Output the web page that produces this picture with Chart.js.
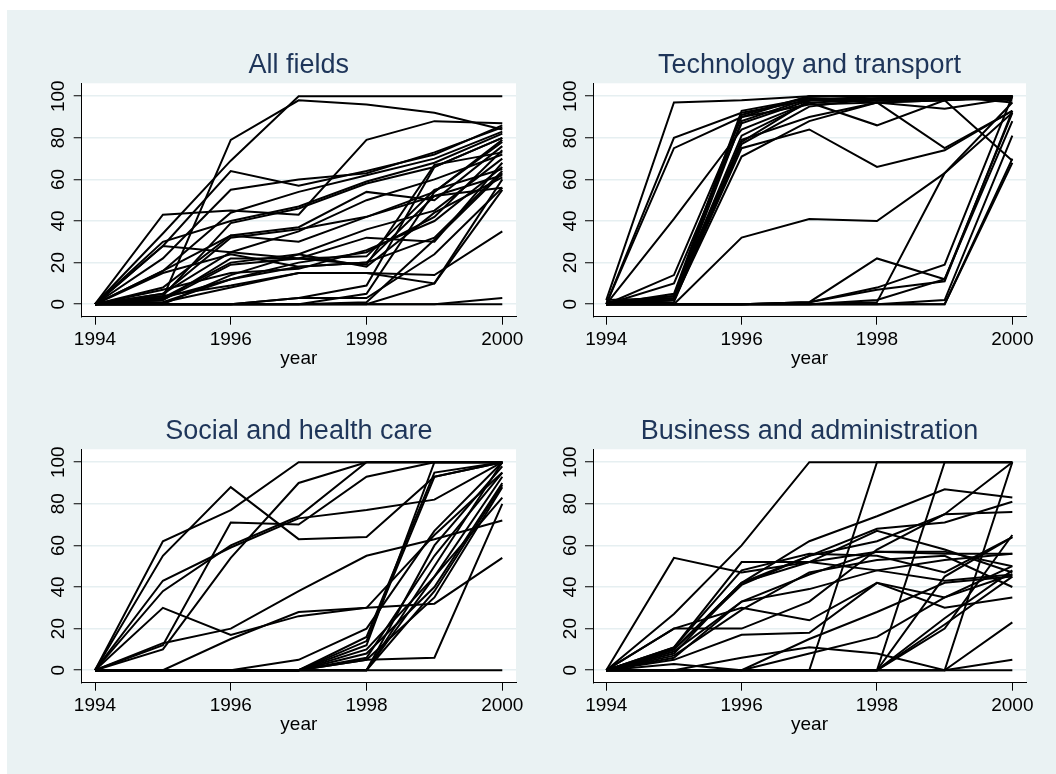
<!DOCTYPE html>
<html>
<head>
<meta charset="utf-8">
<script src="https://cdn.jsdelivr.net/npm/chart.js@4.4.0/dist/chart.umd.min.js"></script>
<style>
  html, body { margin: 0; padding: 0; background: #fff; }
  #page { position: relative; width: 1056px; height: 774px; overflow: hidden; }
  #bg { position: absolute; left: 7px; top: 10px; right: 0; bottom: 0; background: #eaf2f3; }
  canvas { position: absolute; }
</style>
</head>
<body>
<div id="page">
  <div id="bg"></div>
  <canvas id="c1"></canvas>
  <canvas id="c2"></canvas>
  <canvas id="c3"></canvas>
  <canvas id="c4"></canvas>
</div>
<script>
const years = [1994, 1995, 1996, 1997, 1998, 1999, 2000];
const xTicks = [1994, 1996, 1998, 2000];
const yTicks = [0, 20, 40, 60, 80, 100];
const panelTitles = ["All fields", "Technology and transport", "Social and health care", "Business and administration"];

// one row per line, values for 1994..2000
const allFields = [
  [0, 34, 69, 100, 100, 100, 100],
  [0, 3, 79, 98, 96, 92, 84],
  [0, 43, 45, 43, 79, 88, 87],
  [0, 28, 64, 57, 64, 72, 86],
  [0, 22, 55, 60, 63, 73, 85],
  [0, 16, 44, 54, 62, 70, 83],
  [0, 30, 40, 47, 59, 68, 82],
  [0, 4, 39, 46, 58, 66, 80],
  [0, 28, 25, 22, 23, 55, 65],
  [0, 16, 33, 30, 42, 54, 78],
  [0, 8, 33, 37, 54, 50, 76],
  [0, 5, 25, 35, 50, 60, 72],
  [0, 3, 20, 24, 36, 45, 70],
  [0, 2, 19, 22, 32, 30, 68],
  [0, 7, 15, 17, 26, 40, 66],
  [0, 1, 12, 18, 20, 32, 64],
  [0, 1, 8, 15, 15, 10, 60],
  [0, 0, 14, 24, 18, 44, 61],
  [0, 2, 22, 22, 19, 67, 73],
  [0, 0, 0, 3, 9, 66, 80],
  [0, 0, 0, 0, 5, 54, 79],
  [0, 0, 0, 0, 1, 31, 63],
  [0, 0, 0, 3, 3, 24, 56],
  [0, 0, 0, 0, 0, 10, 55],
  [0, 0, 0, 0, 0, 0, 3],
  [0, 0, 0, 0, 0, 0, 0],
  [0, 15, 24, 18, 20, 52, 56],
  [0, 4, 9, 15, 15, 14, 35],
  [0, 5, 32, 36, 42, 52, 62],
  [0, 3, 12, 20, 25, 42, 74]
];

const techTransport = [
  [2, 97, 98, 100, 100, 100, 100],
  [0, 80, 92, 98, 98, 99, 100],
  [0, 75, 90, 96, 97, 94, 99],
  [0, 41, 84, 97, 98, 98, 100],
  [0, 14, 90, 100, 100, 100, 100],
  [0, 10, 87, 98, 99, 100, 97],
  [0, 5, 93, 99, 98, 99, 100],
  [0, 4, 81, 97, 86, 98, 100],
  [0, 3, 79, 90, 97, 98, 69],
  [0, 2, 75, 84, 66, 74, 93],
  [0, 2, 71, 88, 97, 75, 93],
  [0, 1, 77, 95, 99, 99, 100],
  [0, 0, 32, 41, 40, 63, 92],
  [2, 3, 88, 99, 97, 98, 99],
  [0, 0, 0, 1, 22, 12, 88],
  [0, 0, 0, 1, 8, 19, 100],
  [0, 0, 0, 1, 7, 11, 93],
  [0, 0, 0, 0, 1, 63, 97],
  [0, 0, 0, 0, 0, 2, 81],
  [0, 0, 0, 0, 0, 0, 68],
  [0, 0, 0, 0, 2, 12, 92],
  [0, 0, 0, 0, 0, 0, 70],
  [1, 4, 91, 100, 100, 100, 100],
  [0, 2, 78, 98, 100, 100, 98]
];

const socialHealth = [
  [0, 62, 77, 100, 100, 100, 100],
  [0, 55, 88, 63, 64, 93, 100],
  [0, 43, 59, 73, 77, 82, 100],
  [0, 38, 60, 74, 100, 100, 100],
  [0, 12, 71, 70, 93, 100, 100],
  [0, 10, 54, 90, 100, 100, 100],
  [0, 30, 17, 26, 30, 32, 54],
  [0, 13, 20, 38, 55, 63, 72],
  [0, 0, 15, 28, 30, 65, 95],
  [0, 0, 0, 5, 20, 67, 100],
  [0, 0, 0, 0, 16, 95, 100],
  [0, 0, 0, 0, 14, 93, 100],
  [0, 0, 0, 0, 12, 100, 100],
  [0, 0, 0, 0, 10, 45, 93],
  [0, 0, 0, 0, 8, 40, 90],
  [0, 0, 0, 0, 5, 35, 88],
  [0, 0, 0, 0, 6, 55, 95],
  [0, 0, 0, 0, 0, 60, 98],
  [0, 0, 0, 0, 0, 45, 83],
  [0, 0, 0, 0, 5, 6, 80],
  [0, 0, 0, 0, 0, 0, 0],
  [0, 0, 0, 0, 0, 50, 100],
  [0, 0, 0, 0, 0, 38, 89]
];

const businessAdmin = [
  [0, 27, 60, 100, 100, 100, 100],
  [0, 54, 47, 52, 57, 56, 56],
  [0, 0, 0, 0, 100, 100, 100],
  [0, 0, 0, 0, 0, 100, 100],
  [0, 0, 0, 0, 0, 0, 100],
  [0, 20, 20, 33, 58, 75, 100],
  [0, 10, 42, 62, 74, 87, 83],
  [0, 10, 41, 55, 68, 71, 81],
  [0, 8, 42, 52, 67, 58, 47],
  [0, 11, 52, 52, 48, 43, 46],
  [0, 20, 30, 24, 42, 30, 35],
  [0, 6, 33, 39, 48, 53, 56],
  [0, 5, 17, 18, 42, 35, 50],
  [0, 3, 0, 15, 28, 42, 45],
  [0, 0, 6, 11, 8, 0, 23],
  [0, 0, 0, 8, 16, 35, 46],
  [0, 0, 0, 0, 0, 22, 45],
  [0, 0, 0, 0, 0, 25, 48],
  [0, 0, 0, 0, 0, 45, 64],
  [0, 0, 0, 0, 0, 0, 5],
  [0, 0, 0, 0, 0, 0, 0],
  [0, 10, 42, 55, 62, 75, 76],
  [0, 11, 48, 56, 55, 47, 64],
  [0, 9, 33, 46, 57, 57, 50],
  [0, 7, 29, 47, 53, 55, 40],
  [0, 0, 0, 0, 0, 20, 65]
];

const FONT = "'Liberation Sans', Arial, sans-serif";
Chart.defaults.font.family = FONT;

const AREA_BOTTOM = 316.7;   // plot bottom, relative to canvas top
const X_AXIS_H = 60;

// white plot region behind the lines
const plotBg = {
  id: "plotBg",
  beforeDraw(chart) {
    const { ctx, chartArea: a } = chart;
    ctx.save();
    ctx.fillStyle = "#fff";
    ctx.fillRect(a.left, a.top, a.right - a.left, a.bottom - a.top);
    ctx.restore();
  }
};

// y labels are rotated like Stata's, so they are drawn here
const yLabels = {
  id: "yLabels",
  afterDraw(chart) {
    const ctx = chart.ctx;
    const s = chart.scales.y;
    const left = chart.chartArea.left;
    ctx.save();
    ctx.fillStyle = "#000";
    ctx.font = "19px " + FONT;
    ctx.textAlign = "center";
    ctx.textBaseline = "middle";
    yTicks.forEach(v => {
      ctx.save();
      ctx.translate(left - 22.5, s.getPixelForValue(v));
      ctx.rotate(-Math.PI / 2);
      ctx.fillText(String(v), 0, 0);
      ctx.restore();
    });
    ctx.restore();
  }
};

function makePanel(id, title, series, box) {
  const canvas = document.getElementById(id);
  canvas.width = box.w;
  canvas.height = box.h;
  canvas.style.left = box.x + "px";
  canvas.style.top = box.y + "px";

  new Chart(canvas, {
    type: "line",
    data: {
      datasets: series.map(vals => ({
        data: vals.map((v, i) => ({ x: years[i], y: v })),
        borderColor: "#000",
        borderWidth: 2,
        pointRadius: 0,
        tension: 0,
        fill: false
      }))
    },
    options: {
      responsive: false,
      animation: false,
      layout: { padding: { left: 0, top: 0, right: box.w - box.areaRight, bottom: box.h - AREA_BOTTOM - X_AXIS_H } },
      plugins: {
        legend: { display: false },
        tooltip: { enabled: false },
        title: {
          display: true,
          text: title,
          fullSize: false,
          color: "#1e3559",
          font: { size: 27, weight: "normal", lineHeight: 1 },
          padding: { top: 52, bottom: 4.3 }
        }
      },
      scales: {
        x: {
          type: "linear",
          min: 1993.804,
          max: 2000.202,
          afterBuildTicks: s => { s.ticks = xTicks.map(v => ({ value: v })); },
          afterFit: s => { s.height = X_AXIS_H; },
          grid: { drawOnChartArea: false, tickLength: 8, tickColor: "#000", tickWidth: 1 },
          border: { color: "#000", width: 1 },
          ticks: { color: "#000", font: { size: 19, lineHeight: 1 }, padding: 5.8, maxRotation: 0, autoSkip: false,
                   callback: v => String(v) },
          title: { display: true, text: "year", color: "#000", font: { size: 19, lineHeight: 1 }, padding: { top: 0, bottom: 8.8 } }
        },
        y: {
          min: -6,
          max: 106.2,
          afterBuildTicks: s => { s.ticks = yTicks.map(v => ({ value: v })); },
          afterFit: s => { s.width = box.areaLeft; },
          grid: { color: "#e6eff1", lineWidth: 1.5, tickLength: 8, tickColor: "#000", tickWidth: 1 },
          border: { color: "#000", width: 1 },
          ticks: { display: false }
        }
      }
    },
    plugins: [plotBg, yLabels]
  });
}

makePanel("c1", panelTitles[0], allFields,     { x: 0,   y: 0,   w: 540, h: 390, areaLeft: 81.7, areaRight: 516 });
makePanel("c2", panelTitles[1], techTransport, { x: 520, y: 0,   w: 536, h: 390, areaLeft: 73,   areaRight: 506 });
makePanel("c3", panelTitles[2], socialHealth,  { x: 0,   y: 366, w: 540, h: 408, areaLeft: 81.7, areaRight: 516 });
makePanel("c4", panelTitles[3], businessAdmin, { x: 520, y: 366, w: 536, h: 408, areaLeft: 73,   areaRight: 506 });
</script>
</body>
</html>
